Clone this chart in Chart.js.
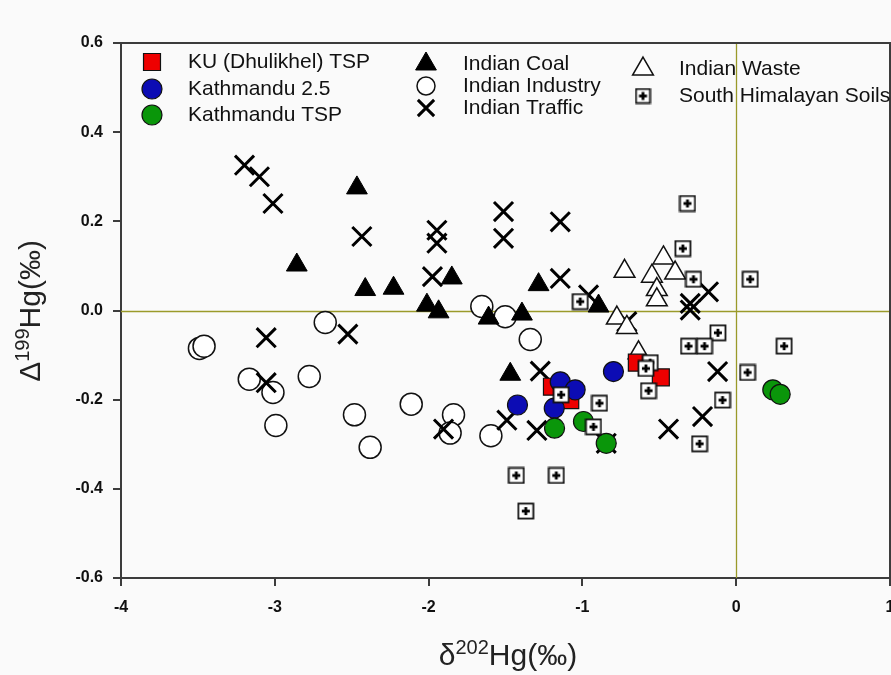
<!DOCTYPE html>
<html><head><meta charset="utf-8">
<script src="https://cdn.jsdelivr.net/npm/chart.js@4/dist/chart.umd.min.js"></script>
<style>html,body{margin:0;padding:0;background:#fafafa}#wrap{width:891px;height:675px;position:relative}</style>
</head><body><div id="wrap"><canvas id="c" width="891" height="675"></canvas></div>
<script>
// ---- data: [δ202Hg, Δ199Hg] ----
const kuTSP = [[-1.198,-0.171],[-1.079,-0.201],[-0.646,-0.117],[-0.490,-0.150]];
const kathmandu25 = [[-1.144,-0.160],[-1.047,-0.178],[-1.183,-0.219],[-1.422,-0.212],[-0.798,-0.137]];
const kathmanduTSP = [[-1.181,-0.264],[-0.993,-0.249],[-0.845,-0.298],[0.238,-0.178],[0.286,-0.188]];
const indianCoal = [[-2.466,0.275],[-2.857,0.102],[-2.412,0.047],[-2.228,0.050],[-2.011,0.012],[-1.935,-0.003],
  [-1.849,0.073],[-1.610,-0.017],[-1.393,-0.008],[-1.285,0.058],[-0.895,0.010],[-1.469,-0.143]];
const indianIndustry = [[-3.49,-0.085],[-3.46,-0.080],[-3.166,-0.154],[-3.012,-0.184],[-2.993,-0.258],[-2.776,-0.148],
  [-2.672,-0.027],[-2.482,-0.234],[-2.380,-0.307],[-2.113,-0.210],[-1.838,-0.234],[-1.860,-0.275],[-1.595,-0.281],
  [-1.654,0.009],[-1.502,-0.014],[-1.339,-0.065]];
const indianTraffic = [[-3.197,0.326],[-3.10,0.300],[-3.012,0.240],[-2.434,0.166],[-1.946,0.180],[-1.946,0.151],
  [-1.975,0.076],[-1.513,0.222],[-1.513,0.162],[-1.144,0.199],[-1.144,0.072],[-0.299,0.016],[-0.299,0.001],
  [-0.180,0.042],[-0.711,-0.025],[-0.96,0.035],[-3.056,-0.061],[-3.056,-0.162],[-2.525,-0.053],[-1.903,-0.266],
  [-1.274,-0.136],[-1.491,-0.246],[-1.296,-0.269],[-0.845,-0.298],[-0.440,-0.266],[-0.219,-0.238],[-0.121,-0.137]];
const indianWaste = [[-0.726,0.088],[-0.473,0.118],[-0.548,0.077],[-0.397,0.084],[-0.516,0.047],[-0.516,0.024],
  [-0.776,-0.017],[-0.711,-0.038],[-0.635,-0.095]];
const himalayanSoils = [[-0.317,0.240],[-0.347,0.139],[-0.278,0.070],[0.091,0.070],[-1.014,0.020],[-0.119,-0.050],
  [-0.310,-0.080],[-0.206,-0.080],[0.312,-0.080],[-0.559,-0.117],[-0.587,-0.130],[-0.570,-0.180],[-1.138,-0.189],
  [-0.889,-0.208],[-0.928,-0.261],[-0.089,-0.201],[0.074,-0.139],[-0.238,-0.299],[-1.430,-0.370],[-1.170,-0.370],
  [-1.368,-0.450]];
const seriesNames = ['KU (Dhulikhel) TSP','Kathmandu 2.5','Kathmandu TSP','Indian Coal','Indian Industry','Indian Traffic','Indian Waste','South Himalayan Soils'];
const xTicks = [-4,-3,-2,-1,0,1];
const yTicks = [-0.6,-0.4,-0.2,0.0,0.2,0.4,0.6];

const FONT = '"Liberation Sans", Arial, Helvetica, sans-serif';

function makeSoilMarker(size){
  const c = document.createElement('canvas');
  c.width = size; c.height = size;
  const g = c.getContext('2d');
  g.fillStyle = '#ffffff';
  g.fillRect(1,1,size-2,size-2);
  g.strokeStyle = '#111'; g.lineWidth = 1.8;
  g.strokeRect(1.5,1.5,size-3,size-3);
  g.fillStyle = '#000';
  const m = size/2, L = Math.round(size*0.22), t = 1.4;
  g.fillRect(m-L, m-t, 2*L, 2*t);
  g.fillRect(m-t, m-L, 2*t, 2*L);
  return c;
}
const soilMarker = makeSoilMarker(18);
const soilLegend = makeSoilMarker(17);

const toPts = a => a.map(p => ({x:p[0], y:p[1]}));

const datasets = [
  {label:seriesNames[7], data:toPts(himalayanSoils), pointStyle:soilMarker, order:0, pointRadius:9, backgroundColor:'#fff', borderColor:'#111', borderWidth:1.5, legendStyle:soilLegend},
  {label:seriesNames[2], data:toPts(kathmanduTSP), pointStyle:'circle', order:1, pointRadius:10, backgroundColor:'#0a960a', borderColor:'#111', borderWidth:1.2},
  {label:seriesNames[1], data:toPts(kathmandu25), pointStyle:'circle', order:2, pointRadius:10, backgroundColor:'#0c0cb4', borderColor:'#111', borderWidth:1.2},
  {label:seriesNames[0], data:toPts(kuTSP), pointStyle:'rect', order:3, pointRadius:12, backgroundColor:'#ee0000', borderColor:'#111', borderWidth:1.2},
  {label:seriesNames[6], data:toPts(indianWaste), pointStyle:'triangle', order:4, pointRadius:12, backgroundColor:'#ffffff', borderColor:'#111', borderWidth:1.5},
  {label:seriesNames[3], data:toPts(indianCoal), pointStyle:'triangle', order:5, pointRadius:12, backgroundColor:'#000000', borderColor:'#000', borderWidth:1},
  {label:seriesNames[5], data:toPts(indianTraffic), pointStyle:'crossRot', order:6, pointRadius:13.5, backgroundColor:'#000', borderColor:'#000', borderWidth:3},
  {label:seriesNames[4], data:toPts(indianIndustry), pointStyle:'circle', order:7, pointRadius:11, backgroundColor:'#ffffff', borderColor:'#111', borderWidth:1.5}
];
datasets.forEach(d => { d.pointHoverRadius = d.pointRadius; d.showLine = false; });

function drawMarker(ctx, style, x, y, r, fill, stroke, lw){
  ctx.save();
  if (style instanceof HTMLCanvasElement){
    ctx.drawImage(style, x - style.width/2, y - style.height/2);
    ctx.restore(); return;
  }
  ctx.fillStyle = fill; ctx.strokeStyle = stroke; ctx.lineWidth = lw;
  ctx.beginPath();
  if (style === 'circle'){
    ctx.arc(x, y, r, 0, Math.PI*2);
    ctx.fill(); ctx.stroke();
  } else if (style === 'rect'){
    const s = Math.SQRT1_2 * r;
    ctx.rect(x-s, y-s, 2*s, 2*s); ctx.fill(); ctx.stroke();
  } else if (style === 'triangle'){
    for (let i=0;i<3;i++){
      const a = i*2*Math.PI/3;
      const px = x + Math.sin(a)*r, py = y - Math.cos(a)*r;
      if (i===0) ctx.moveTo(px,py); else ctx.lineTo(px,py);
    }
    ctx.closePath(); ctx.fill(); ctx.stroke();
  } else if (style === 'crossRot'){
    const o = Math.SQRT1_2 * r;
    ctx.moveTo(x-o,y-o); ctx.lineTo(x+o,y+o);
    ctx.moveTo(x-o,y+o); ctx.lineTo(x+o,y-o);
    ctx.stroke();
  }
  ctx.restore();
}

const bgPlugin = {
  id:'bg',
  beforeDraw(chart){
    const ctx = chart.ctx;
    ctx.save(); ctx.fillStyle = '#fafafa'; ctx.fillRect(0,0,chart.width,chart.height); ctx.restore();
  },
  beforeDatasetsDraw(chart){
    const {ctx, chartArea:a, scales:{x, y}} = chart;
    ctx.save();
    ctx.strokeStyle = '#9a9a2a'; ctx.lineWidth = 1.3;
    const x0 = Math.round(x.getPixelForValue(0)) + 0.5;
    const y0 = Math.round(y.getPixelForValue(0)) + 0.5;
    ctx.beginPath();
    ctx.moveTo(x0, a.top); ctx.lineTo(x0, a.bottom);
    ctx.moveTo(a.left, y0); ctx.lineTo(a.right, y0);
    ctx.stroke();
    ctx.restore();
  },
  afterDraw(chart){
    const {ctx, chartArea:a} = chart;
    ctx.save();
    // frame top & right
    ctx.strokeStyle = '#3c3c3c'; ctx.lineWidth = 2;
    ctx.beginPath();
    ctx.moveTo(a.left, a.top); ctx.lineTo(a.right, a.top); ctx.lineTo(a.right, a.bottom);
    ctx.stroke();

    // legend
    const byLabel = {};
    chart.data.datasets.forEach(d => byLabel[d.label] = d);
    const entries = [
      [seriesNames[0], 152, 62, 188, 12],
      [seriesNames[1], 152, 89, 188, 10],
      [seriesNames[2], 152, 115, 188, 10],
      [seriesNames[3], 426, 64, 463, 12],
      [seriesNames[4], 426, 86, 463, 9],
      [seriesNames[5], 426, 108, 463, 11.5],
      [seriesNames[6], 643, 69, 679, 12],
      [seriesNames[7], 643, 96, 679, 8]
    ];
    ctx.font = '21px ' + FONT;
    ctx.fillStyle = '#111';
    ctx.textBaseline = 'middle'; ctx.textAlign = 'left';
    entries.forEach(e => {
      const d = byLabel[e[0]];
      const st = d.legendStyle || d.pointStyle;
      drawMarker(ctx, st, e[1], e[2], e[4], d.backgroundColor, d.borderColor, d.borderWidth);
      ctx.fillStyle = '#111';
      ctx.fillText(e[0], e[3], e[2]);
    });

    // axis titles with superscripts
    function supTitle(parts, cx, cy, rot){
      ctx.save();
      ctx.translate(cx, cy);
      if (rot) ctx.rotate(-Math.PI/2);
      ctx.fillStyle = '#222';
      ctx.textBaseline = 'alphabetic'; ctx.textAlign = 'left';
      let w = 0;
      parts.forEach(p => { ctx.font = (p.sup ? '20px ' : '30px ') + FONT; w += ctx.measureText(p.t).width; });
      let x = -w/2;
      parts.forEach(p => {
        ctx.font = (p.sup ? '20px ' : '30px ') + FONT;
        ctx.fillText(p.t, x, p.sup ? -1 : 10);
        x += ctx.measureText(p.t).width;
      });
      ctx.restore();
    }
    supTitle([{t:'δ'},{t:'202',sup:true},{t:'Hg(‰)'}], 508, 655, false);
    supTitle([{t:'Δ'},{t:'199',sup:true},{t:'Hg(‰)'}], 30, 311, true);
    ctx.restore();
  }
};

new Chart(document.getElementById('c'), {
  type:'scatter',
  data:{datasets},
  options:{
    responsive:false,
    animation:false,
    devicePixelRatio:1,
    layout:{autoPadding:false, padding:{top:43, right:1, left:0, bottom:0}},
    plugins:{legend:{display:false}, tooltip:{enabled:false}},
    scales:{
      x:{
        type:'linear', min:xTicks[0], max:xTicks[xTicks.length-1],
        afterBuildTicks(s){ s.ticks = xTicks.map(v => ({value:v})); },
        afterFit(s){ s.height = 97; s.paddingLeft = 0; s.paddingRight = 0; },
        grid:{drawOnChartArea:false, drawTicks:true, tickLength:8, color:'#3c3c3c', lineWidth:2},
        border:{display:true, color:'#3c3c3c', width:2},
        ticks:{padding:12, color:'#111', font:{family:FONT, size:16, weight:'bold'}, autoSkip:false, maxRotation:0,
          callback:v => String(v)}
      },
      y:{
        type:'linear', min:yTicks[0], max:yTicks[yTicks.length-1],
        afterBuildTicks(s){ s.ticks = yTicks.map(v => ({value:v})); },
        afterFit(s){ s.width = 121; s.paddingTop = 0; s.paddingBottom = 0; },
        grid:{drawOnChartArea:false, drawTicks:true, tickLength:8, color:'#3c3c3c', lineWidth:2},
        border:{display:true, color:'#3c3c3c', width:2},
        ticks:{padding:10, color:'#111', font:{family:FONT, size:16, weight:'bold'}, autoSkip:false,
          callback:v => Number(v).toFixed(1)}
      }
    }
  },
  plugins:[bgPlugin]
});
</script></body></html>
